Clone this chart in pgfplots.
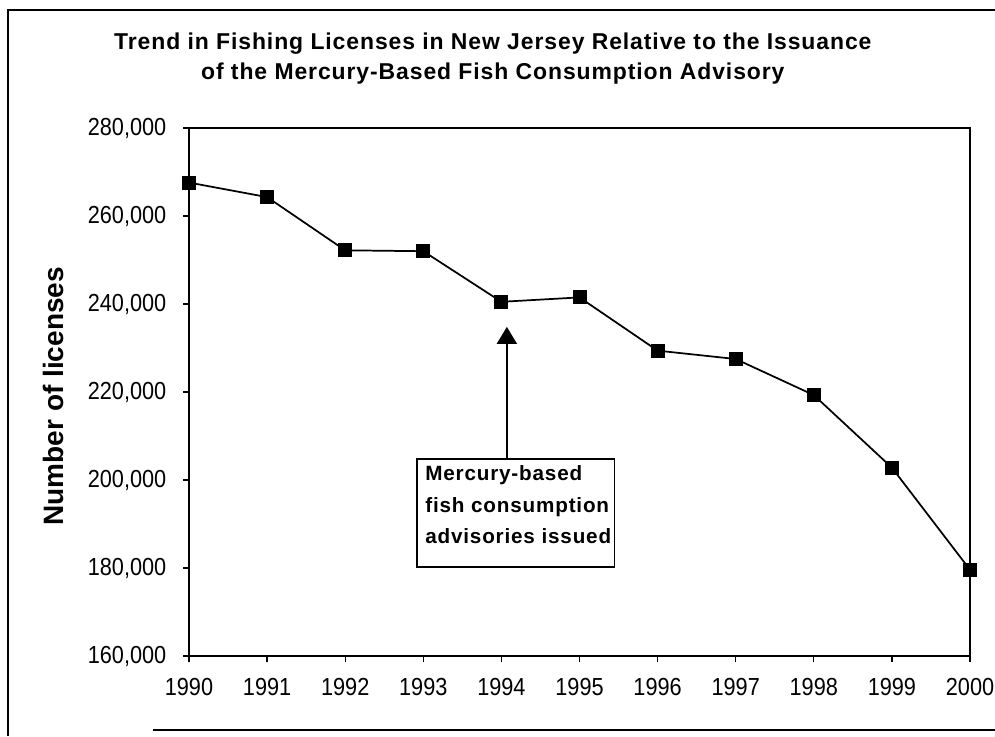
\documentclass[border=0pt]{standalone}
\usepackage{fontspec}
\setmainfont{Liberation Sans}
\newfontfamily\tickfont{Liberation Sans}[FakeStretch=0.88]
\newfontfamily\notefont{Liberation Sans}[LetterSpace=4]
\usepackage{pgfplots}
\pgfplotsset{compat=1.18}
\usetikzlibrary{arrows.meta}

\begin{document}
\begin{tikzpicture}[x=0.75pt,y=-0.75pt]
\useasboundingbox (0,0) rectangle (995,736);
% outer chart frame
\draw[line width=1.2pt] (8,736) -- (8,10) -- (995,10);
\draw[line width=1.2pt] (153,730) -- (995,730);
\begin{axis}[
  at={(141.75pt,-492pt)}, anchor=south west,
  scale only axis, width=585.75pt, height=396pt,
  xmin=1990, xmax=2000, ymin=160000, ymax=280000,
  xtick={1990,1991,...,2000},
  ytick={160000,180000,...,280000},
  scaled y ticks=false,
  tick align=outside, tick pos=left,
  major tick length=4.5pt,
  axis line style={line width=1pt},
  every tick/.style={black, line width=1pt},
  /pgf/number format/assume math mode=true,
  xticklabel style={/pgf/number format/1000 sep={}, font=\tickfont\fontsize{18.5}{21}\selectfont, yshift=-9pt},
  yticklabel style={/pgf/number format/.cd, fixed, 1000 sep={,}, /tikz/.cd, font=\tickfont\fontsize{18.5}{21}\selectfont, xshift=-9pt},
  clip=false,
]
\addplot[black, line width=1.3pt, mark=square*, mark size=4.6pt, mark options={solid}]
coordinates {
  (1990,267600) (1991,264300) (1992,252200) (1993,252000)
  (1994,240500) (1995,241500) (1996,229400) (1997,227500)
  (1998,219300) (1999,202800) (2000,179600)
};
% advisory annotation
\draw[line width=1pt] (axis cs:1992.92,204800) rectangle (axis cs:1995.45,180200);
\node[anchor=north west, align=left, inner sep=0pt,
      font=\notefont\bfseries\fontsize{15.5}{23.6}\selectfont]
  at ([xshift=6pt,yshift=-5pt]axis cs:1992.92,204800)
  {Mercury-based\\fish consumption\\advisories issued};
\draw[line width=1.3pt, -{Triangle[width=15pt,length=12.75pt]}]
  (axis cs:1994.07,204800) -- (axis cs:1994.07,234800);
% titles
\node[anchor=base, font=\notefont\bfseries\fontsize{17.2}{20}\selectfont]
  at (axis description cs:0.389,1.148)
  {Trend in Fishing Licenses in New Jersey Relative to the Issuance};
\node[anchor=base, font=\notefont\bfseries\fontsize{17.2}{20}\selectfont]
  at (axis description cs:0.389,1.091)
  {of the Mercury-Based Fish Consumption Advisory};
\node[rotate=90, anchor=center, font=\bfseries\fontsize{21}{24}\selectfont]
  at (axis description cs:-0.174,0.492) {Number of licenses};
\end{axis}
\end{tikzpicture}
\end{document}
